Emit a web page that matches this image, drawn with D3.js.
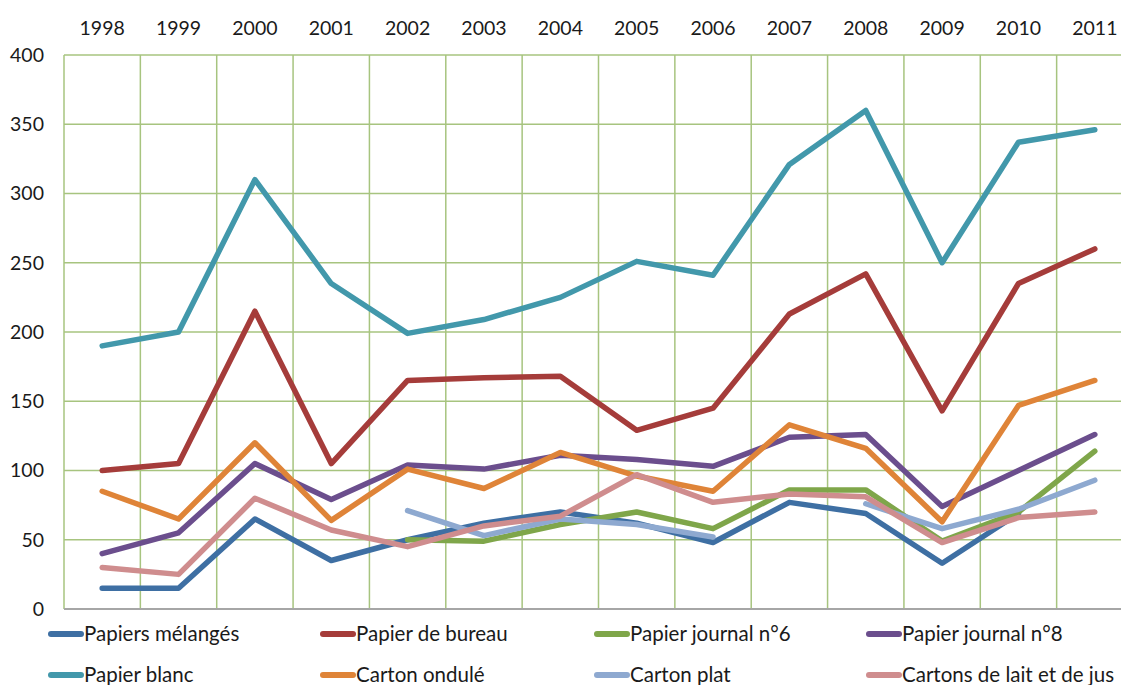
<!DOCTYPE html>
<html>
<head>
<meta charset="utf-8">
<script src="https://cdn.jsdelivr.net/npm/d3@7"></script>
<style>
  html, body { margin: 0; padding: 0; background: #fff; }
  svg { display: block; }
</style>
</head>
<body>
<div id="chart"></div>
<script>
// Years along the top axis
const years = ["1998","1999","2000","2001","2002","2003","2004","2005","2006","2007","2008","2009","2010","2011"];

// Y axis tick values
const yTicks = [0, 50, 100, 150, 200, 250, 300, 350, 400];

// One array per paper / cardboard grade (null = no value that year)
const papiersMelanges   = [15, 15, 65, 35, 50, 62, 70, 62, 48, 77, 69, 33, 69, null];
const papierBureau      = [100, 105, 215, 105, 165, 167, 168, 129, 145, 213, 242, 143, 235, 260];
const papierJournal6    = [null, null, null, null, 50, 49, 61, 70, 58, 86, 86, 49, 70, 114];
const papierJournal8    = [40, 55, 105, 79, 104, 101, 111, 108, 103, 124, 126, 74, 100, 126];
const papierBlanc       = [190, 200, 310, 235, 199, 209, 225, 251, 241, 321, 360, 250, 337, 346];
const cartonOndule      = [85, 65, 120, 64, 101, 87, 113, 96, 85, 133, 116, 63, 147, 165];
const cartonPlat        = [null, null, null, null, 71, 53, 65, 61, 52, null, 76, 58, 72, 93];
const cartonsLaitJus    = [30, 25, 80, 57, 45, 60, 67, 97, 77, 83, 81, 48, 66, 70];

const seriesNames = [
  "Papiers mélangés", "Papier de bureau", "Papier journal n°6", "Papier journal n°8",
  "Papier blanc", "Carton ondulé", "Carton plat", "Cartons de lait et de jus"
];
const seriesValues = [
  papiersMelanges, papierBureau, papierJournal6, papierJournal8,
  papierBlanc, cartonOndule, cartonPlat, cartonsLaitJus
];
const seriesColors = [
  "#3E6FA3", "#A53C3A", "#7FA64A", "#6B4E8D",
  "#4298AB", "#DF8438", "#8EA9D0", "#CF8D8E"
];

const W = 1121, H = 685;
const plot = { left: 64, right: 1133, top: 55, bottom: 609 };

const svg = d3.select("#chart").append("svg")
  .attr("width", W).attr("height", H);

const x = d3.scaleBand().domain(years).range([plot.left, plot.right]);
const y = d3.scaleLinear().domain([0, 400]).range([plot.bottom, plot.top]);

const font = "Lato, 'Open Sans', sans-serif";

// Gridlines
const grid = svg.append("g").attr("class", "grid");
grid.selectAll("line.h")
  .data(yTicks.filter(v => v > 0))
  .join("line")
  .attr("class", "h")
  .attr("x1", plot.left).attr("x2", plot.right)
  .attr("y1", d => y(d)).attr("y2", d => y(d))
  .attr("stroke", "#A7C47F").attr("stroke-width", 1.5);

grid.selectAll("line.v")
  .data(years)
  .join("line")
  .attr("class", "v")
  .attr("x1", d => x(d)).attr("x2", d => x(d))
  .attr("y1", plot.top).attr("y2", plot.bottom)
  .attr("stroke", "#A7C47F").attr("stroke-width", 1.5);

// Baseline
svg.append("line")
  .attr("x1", plot.left).attr("x2", plot.right)
  .attr("y1", y(0)).attr("y2", y(0))
  .attr("stroke", "#A6A6A6").attr("stroke-width", 2);

// Left axis labels
const yAxis = d3.axisLeft(y).tickValues(yTicks).tickSize(0).tickPadding(20);
const yG = svg.append("g").attr("transform", `translate(${plot.left},0)`).call(yAxis);
yG.select(".domain").remove();
yG.selectAll("text")
  .attr("font-family", font).attr("font-size", 19.5).attr("fill", "#1a1a1a");

// Top axis labels
const xAxis = d3.axisTop(x).tickSize(0).tickPadding(20);
const xG = svg.append("g").attr("transform", `translate(0,${plot.top})`).call(xAxis);
xG.select(".domain").remove();
xG.selectAll("text")
  .attr("font-family", font).attr("font-size", 19.5).attr("fill", "#1a1a1a");

// Series lines
const line = d3.line()
  .defined(d => d != null)
  .x((d, i) => x(years[i]) + x.bandwidth() / 2)
  .y(d => y(d));

svg.append("g").attr("class", "series")
  .selectAll("path")
  .data(seriesValues)
  .join("path")
  .attr("d", d => line(d))
  .attr("fill", "none")
  .attr("stroke", (d, i) => seriesColors[i])
  .attr("stroke-width", 5.5)
  .attr("stroke-linecap", "round")
  .attr("stroke-linejoin", "round");

// Legend
const legendCols = [48, 320, 594, 866];
const legendRows = [634, 675];
const legend = svg.append("g").attr("class", "legend");
seriesNames.forEach((name, i) => {
  const cx = legendCols[i % 4];
  const cy = legendRows[Math.floor(i / 4)];
  const g = legend.append("g");
  g.append("line")
    .attr("x1", cx + 3).attr("x2", cx + 33)
    .attr("y1", cy).attr("y2", cy)
    .attr("stroke", seriesColors[i]).attr("stroke-width", 6)
    .attr("stroke-linecap", "round");
  g.append("text")
    .attr("x", cx + 36).attr("y", cy)
    .attr("dy", "0.35em")
    .attr("font-family", font).attr("font-size", 20.5)
    .attr("fill", "#1a1a1a")
    .text(name);
});
</script>
</body>
</html>
